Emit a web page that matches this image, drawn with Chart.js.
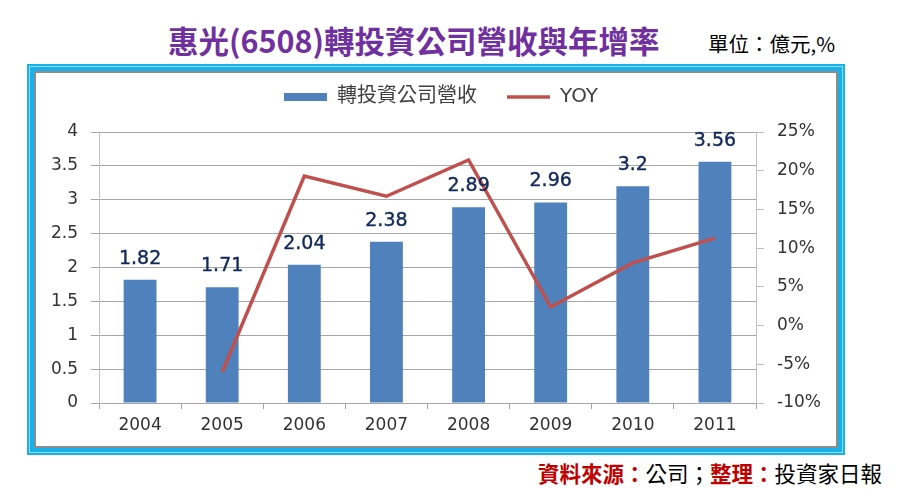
<!DOCTYPE html>
<html>
<head>
<meta charset="utf-8">
<script src="https://cdn.jsdelivr.net/npm/chart.js@4.4.1/dist/chart.umd.min.js"></script>
<style>
  html, body { margin: 0; padding: 0; background: #fff; }
  body { width: 903px; height: 495px; position: relative; overflow: hidden; }
  .frame { position: absolute; left: 27px; top: 64px; width: 818px; height: 391px; box-sizing: border-box;
           border: 7px solid #17b2ec; box-shadow: inset 0 0 0 2px #8c8c8c; background: #fff; }
  .frame-line { position: absolute; left: 29px; top: 66px; width: 814px; height: 387px; box-sizing: border-box;
           border: 1px solid rgba(255,255,255,0.55); }
  #title { position: absolute; left: 168px; top: 21px; font-family: 'Noto Sans CJK TC', sans-serif; font-weight: bold;
           font-size: 30.5px; line-height: 38px; color: #7030a0; white-space: nowrap; }
  #unit { position: absolute; left: 708px; top: 30px; font-family: 'Noto Sans CJK TC', sans-serif;
           font-size: 20.5px; line-height: 26px; color: #000; white-space: nowrap; }
  #source { position: absolute; left: 538px; top: 460px; font-family: 'Noto Sans CJK TC', sans-serif;
           font-size: 21.5px; line-height: 26px; color: #000; white-space: nowrap; }
  #source .r { color: #c00000; font-weight: bold; }
  canvas { position: absolute; left: 0; top: 0; }
</style>
</head>
<body>
<div class="frame"></div>
<div class="frame-line"></div>
<div id="title">惠光(6508)轉投資公司營收與年增率</div>
<div id="unit">單位：億元,%</div>
<div id="source"><span class="r">資料來源：</span>公司；<span class="r">整理：</span>投資家日報</div>
<canvas id="c" width="903" height="495"></canvas>
<script>
const categories = ['2004', '2005', '2006', '2007', '2008', '2009', '2010', '2011'];
const revenue = [1.82, 1.71, 2.04, 2.38, 2.89, 2.96, 3.2, 3.56];
const yoy = [null, -6.0, 19.3, 16.7, 21.4, 2.4, 8.1, 11.3];
const leftTickLabels = ['0', '0.5', '1', '1.5', '2', '2.5', '3', '3.5', '4'];
const rightTickLabels = ['-10%', '-5%', '0%', '5%', '10%', '15%', '20%', '25%'];
const seriesNames = ['轉投資公司營收', 'YOY'];

const FONT = "'DejaVu Sans', 'Noto Sans CJK TC', sans-serif";
const BAR_COLOR = '#4f81bd';
const LINE_COLOR = '#c0504d';

const dataLabels = {
  id: 'dataLabels',
  afterDatasetsDraw(chart) {
    const ctx = chart.ctx;
    const meta = chart.getDatasetMeta(1);
    ctx.save();
    ctx.font = '19px ' + FONT;
    ctx.fillStyle = '#11295a';
    ctx.strokeStyle = '#11295a';
    ctx.lineWidth = 0.4;
    ctx.textAlign = 'center';
    ctx.textBaseline = 'middle';
    meta.data.forEach((bar, i) => {
      const t = String(revenue[i]);
      ctx.fillText(t, bar.x, bar.y - 21);
      ctx.strokeText(t, bar.x, bar.y - 21);
    });
    ctx.restore();
  }
};

new Chart(document.getElementById('c'), {
  type: 'bar',
  data: {
    labels: categories,
    datasets: [
      {
        type: 'line', label: seriesNames[1], data: yoy, yAxisID: 'y1',
        borderColor: LINE_COLOR, backgroundColor: LINE_COLOR, borderWidth: 3.5,
        pointRadius: 0, pointHoverRadius: 0, tension: 0, spanGaps: false, order: 0
      },
      {
        type: 'bar', label: seriesNames[0], data: revenue, yAxisID: 'y',
        backgroundColor: BAR_COLOR, borderWidth: 0,
        barPercentage: 0.5, categoryPercentage: 0.8, order: 1
      }
    ]
  },
  options: {
    responsive: false,
    animation: false,
    events: [],
    layout: { padding: { left: 0, right: 21, top: 57, bottom: 0 } },
    plugins: {
      tooltip: { enabled: false },
      subtitle: { display: true, text: '', position: 'top', weight: 500, font: { size: 1 }, padding: { top: 13.8, bottom: 0 } },
      legend: {
        display: true, position: 'top', align: 'center',
        labels: {
          usePointStyle: true, pointStyleWidth: 43, boxHeight: 8, padding: 30,
          color: '#404040', font: { family: FONT, size: 20 },
          generateLabels(chart) {
            return [
              { text: seriesNames[0], fillStyle: BAR_COLOR, strokeStyle: BAR_COLOR, lineWidth: 0, pointStyle: 'rect', datasetIndex: 1, hidden: false, fontColor: '#404040' },
              { text: seriesNames[1], fillStyle: LINE_COLOR, strokeStyle: LINE_COLOR, lineWidth: 3.5, pointStyle: 'line', datasetIndex: 0, hidden: false, fontColor: '#404040' }
            ];
          }
        }
      }
    },
    scales: {
      x: {
        offset: true,
        grid: { offset: true, drawOnChartArea: false, drawTicks: true, tickLength: 6, color: '#a6a6a6' },
        border: { color: '#a6a6a6', width: 1 },
        ticks: { color: '#333', font: { family: FONT, size: 17 }, padding: 6, maxRotation: 0 },
        afterFit(scale) { scale.height = 92; }
      },
      y: {
        position: 'left', min: 0, max: 4,
        grid: { color: '#a6a6a6', tickLength: 8, drawTicks: true },
        border: { color: '#bfbfbf', width: 1 },
        ticks: { stepSize: 0.5, color: '#333', font: { family: FONT, size: 17 }, padding: 13,
                 callback: (v, i) => leftTickLabels[i] },
        afterFit(scale) { scale.width = 99; }
      },
      y1: {
        position: 'right', min: -10, max: 25,
        grid: { drawOnChartArea: false, color: '#bfbfbf', tickLength: 8, drawTicks: true },
        border: { color: '#bfbfbf', width: 1 },
        ticks: { stepSize: 5, color: '#333', font: { family: FONT, size: 17 }, padding: 13,
                 callback: (v, i) => rightTickLabels[i] },
        afterFit(scale) { scale.width = 126; }
      }
    }
  },
  plugins: [dataLabels]
});
</script>
</body>
</html>
